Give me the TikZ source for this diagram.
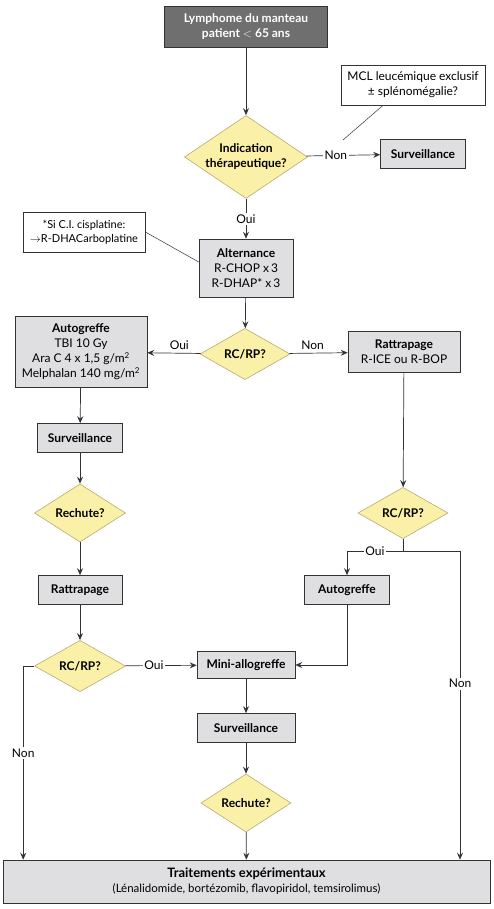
\documentclass[tikz,border=0pt]{standalone}
\usepackage{fontspec}
\setmainfont{Lato}
\usepackage{tikz}
\usetikzlibrary{arrows.meta,shapes.geometric,calc}

\definecolor{linecol}{HTML}{333333}
\definecolor{boxfill}{HTML}{DFDFE1}
\definecolor{topfill}{HTML}{6F6F6F}
\definecolor{diafill}{HTML}{FBF0A8}
\definecolor{diaedge}{HTML}{B8AB72}

\newcommand{\chartfont}{\fontsize{12}{15}\selectfont}

\tikzset{
  box/.style={draw=linecol,fill=boxfill,line width=0.6pt,align=center,inner sep=0pt},
  boldbox/.style={box,font=\chartfont\bfseries},
  decision/.style={diamond,draw=diaedge,fill=diafill,line width=0.6pt,align=center,inner sep=0pt,font=\chartfont\bfseries},
  notebox/.style={draw=linecol,fill=white,line width=0.6pt,align=center,inner sep=0pt},
  arr/.style={-{Stealth[length=7pt,width=6pt,inset=2.5pt]},line width=0.7pt,draw=linecol},
  plain/.style={line width=0.7pt,draw=linecol},
  lbl/.style={fill=white,inner sep=1.5pt},
}

\begin{document}
\begin{tikzpicture}[x=1pt,y=-1pt,font=\chartfont]
  \useasboundingbox (0,0) rectangle (493,909);

  % colonne centrale
  \node[boldbox,fill=topfill,text=white,minimum width=163pt,minimum height=41pt] (lymph) at (246,27) {Lymphome du manteau\\patient $<$ 65 ans};
  \node[decision,inner sep=-6pt,minimum width=123pt,minimum height=70pt] (indic) at (246,157) {Indication\\thérapeutique?};
  \node[boldbox,minimum width=85pt,minimum height=29pt] (survA) at (423,154) {Surveillance};
  \node[notebox,minimum width=144pt,minimum height=40pt] (mcl) at (413,85) {MCL leucémique exclusif\\± splénomégalie?};
  \node[box,minimum width=94pt,minimum height=58pt] (altern) at (246,268) {\textbf{Alternance}\\R-CHOP x\,3\\R-DHAP* x\,3};
  \node[notebox,font=\fontsize{11}{14}\selectfont,minimum width=122pt,minimum height=40pt] (cisp) at (84,232) {*Si C.I. cisplatine:\\$\rightarrow$R-DHACarboplatine};
  \node[decision,minimum width=90pt,minimum height=50pt] (rcA) at (245,354) {RC/RP?};

  % colonne gauche
  \node[box,minimum width=132pt,minimum height=71pt] (autoA) at (81,352) {\textbf{Autogreffe}\\TBI 10 Gy\\Ara C 4 x 1,5 g/m\textsuperscript{2}\\Melphalan 140 mg/m\textsuperscript{2}};
  \node[boldbox,minimum width=85pt,minimum height=29pt] (survB) at (80,438) {Surveillance};
  \node[decision,minimum width=91pt,minimum height=51pt] (rechA) at (80,513) {Rechute?};
  \node[boldbox,minimum width=84pt,minimum height=29pt] (rattB) at (80,590) {Rattrapage};
  \node[decision,minimum width=91pt,minimum height=51pt] (rcB) at (80,666) {RC/RP?};

  % colonne droite
  \node[box,minimum width=112pt,minimum height=41pt] (rattA) at (404,352) {\textbf{Rattrapage}\\R-ICE ou R-BOP};
  \node[decision,minimum width=90pt,minimum height=50pt] (rcC) at (403,513) {RC/RP?};
  \node[boldbox,minimum width=85pt,minimum height=29pt] (autoB) at (347,590) {Autogreffe};

  % bas
  \node[boldbox,minimum width=98pt,minimum height=27pt] (mini) at (246,665) {Mini-allogreffe};
  \node[boldbox,minimum width=98pt,minimum height=29pt] (survC) at (246,728) {Surveillance};
  \node[decision,minimum width=90pt,minimum height=51pt] (rechB) at (246,803) {Rechute?};
  \node[box,minimum width=487pt,minimum height=43pt] (trait) at (246.5,881.5) {{\fontsize{13}{15}\selectfont\bfseries Traitements expérimentaux}\\{\fontsize{11.5}{13}\selectfont(Lénalidomide, bortézomib, flavopiridol, temsirolimus)}};

  % liaisons
  \draw[arr] (lymph) -- (indic);
  \draw[arr] (indic) -- node[lbl,pos=0.4] {Non} (survA);
  \coordinate (nonpt) at (343,140);
  \draw[plain,line width=0.5pt] ($(mcl.south)+(-30,0)$) -- (nonpt);
  \draw[arr] (indic) -- node[lbl] {Oui} (altern);
  \draw[plain,line width=0.5pt] (cisp.east) -- ([yshift=6pt]altern.west);
  \draw[arr] (altern) -- (rcA);
  \draw[arr] (rcA) -- node[above,pos=0.4] {Oui} (autoA);
  \draw[arr] (rcA) -- node[above,pos=0.4] {Non} (rattA);

  \draw[arr] (autoA) -- (survB);
  \draw[arr] (survB) -- (rechA);
  \draw[arr] (rechA) -- (rattB);
  \draw[arr] (rattB) -- (rcB);
  \coordinate (gnon) at ($(rcB.west)+(-11,0)$);
  \draw[plain] (rcB.west) -- (gnon);
  \draw[arr] (gnon) -- node[lbl,pos=0.45] {Non} (gnon |- trait.north);
  \draw[arr] (rcB) -- node[lbl,pos=0.4] {Oui} (mini);

  \draw[arr] (rattA) -- (rcC);
  \coordinate (fork) at ($(rcC.south)+(0,12)$);
  \draw[plain] (rcC.south) -- (fork);
  \draw[arr] (fork) -- node[lbl,pos=0.5] {Oui} (fork -| autoB) -- (autoB);
  \coordinate (dnon) at ($(fork)+(57,0)$);
  \draw[plain] (fork) -- (dnon);
  \draw[arr] (dnon) -- node[lbl,pos=0.43] {Non} (dnon |- trait.north);
  \draw[arr] (autoB.south) |- (mini.east);

  \draw[arr] (mini) -- (survC);
  \draw[arr] (survC) -- (rechB);
  \draw[arr] (rechB) -- (trait);
\end{tikzpicture}
\end{document}
